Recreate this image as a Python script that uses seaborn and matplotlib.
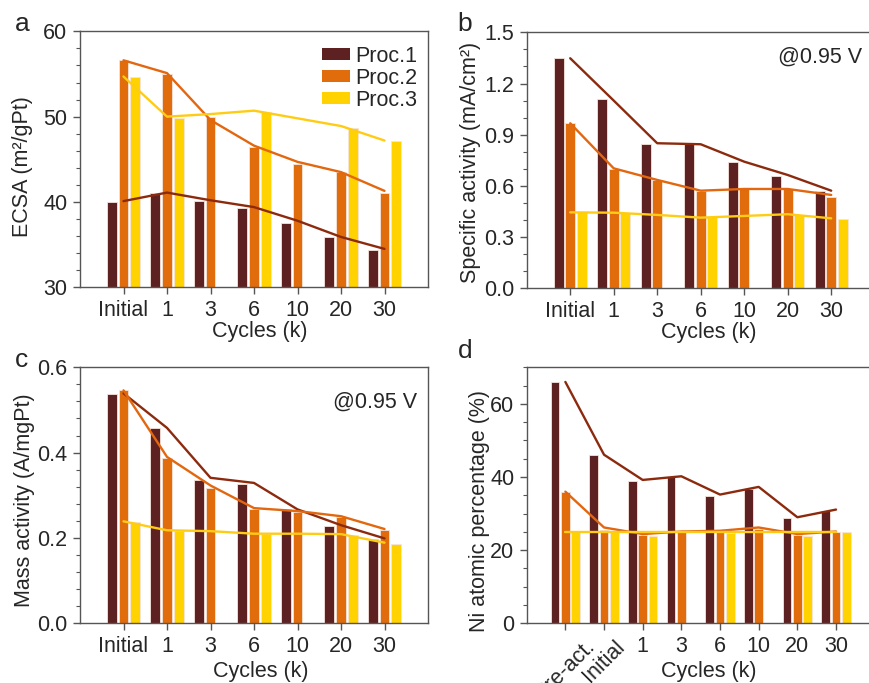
import numpy as np
import pandas as pd
import matplotlib.pyplot as plt
import seaborn as sns
from matplotlib.patches import Patch
from matplotlib.ticker import MultipleLocator

sns.set_style("ticks")
plt.rcParams["font.family"] = ["Liberation Sans", "DejaVu Sans"]

procs = ["Proc.1", "Proc.2", "Proc.3"]
bar_colors = ["#5e2121", "#e06c0b", "#ffd200"]
line_colors = ["#8c2a0e", "#e2670f", "#ffcc15"]

cycles = ["Initial", "1", "3", "6", "10", "20", "30"]
cycles_d = ["Pre-act.", "Initial", "1", "3", "6", "10", "20", "30"]
nan = np.nan

# a - ECSA (bars, then trend lines)
ecsa_p1 = [40.0, 41.0, 40.1, 39.3, 37.5, 35.9, 34.4]
ecsa_p2 = [56.6, 55.0, 50.0, 46.5, 44.4, 43.5, 41.1]
ecsa_p3 = [54.7, 49.8, nan, 50.6, nan, 48.7, 47.1]
ecsa_l1 = [40.1, 41.1, 40.2, 39.4, 37.8, 35.9, 34.5]
ecsa_l2 = [56.6, 55.1, 49.6, 46.6, 44.7, 43.5, 41.3]
ecsa_l3 = [54.7, 50.0, 50.3, 50.7, 49.8, 48.9, 47.2]

# b - specific activity
sa_p1 = [1.348, 1.107, 0.848, 0.846, 0.738, 0.656, 0.568]
sa_p2 = [0.967, 0.697, 0.635, 0.570, 0.584, 0.584, 0.537]
sa_p3 = [0.445, 0.440, nan, 0.418, nan, 0.430, 0.406]
sa_l1 = [1.348, 1.100, 0.850, 0.844, 0.742, 0.664, 0.572]
sa_l2 = [0.967, 0.703, 0.635, 0.572, 0.582, 0.582, 0.547]
sa_l3 = [0.445, 0.443, 0.430, 0.414, 0.424, 0.434, 0.410]

# c - mass activity
ma_p1 = [0.538, 0.458, 0.337, 0.327, 0.267, 0.228, 0.197]
ma_p2 = [0.547, 0.387, 0.317, 0.267, 0.262, 0.250, 0.218]
ma_p3 = [0.238, 0.217, nan, 0.210, nan, 0.208, 0.187]
ma_l1 = [0.539, 0.458, 0.341, 0.329, 0.267, 0.230, 0.199]
ma_l2 = [0.546, 0.390, 0.323, 0.270, 0.263, 0.251, 0.221]
ma_l3 = [0.239, 0.218, 0.216, 0.210, 0.210, 0.209, 0.189]

# d - Ni atomic percentage
ni_p1 = [65.9, 45.9, 38.9, 40.0, 34.9, 36.8, 28.9, 30.8]
ni_p2 = [35.8, 25.4, 24.2, 25.1, 25.1, 25.8, 24.2, 24.9]
ni_p3 = [25.1, 25.3, 23.9, nan, 24.8, nan, 23.9, 24.9]
ni_l1 = [66.0, 46.1, 39.2, 40.2, 35.2, 37.3, 29.0, 31.1]
ni_l2 = [36.0, 26.2, 24.4, 25.1, 25.3, 26.2, 24.4, 25.1]
ni_l3 = [25.1, 25.1, 25.1, 25.1, 25.1, 25.1, 25.1, 25.1]


def panel(ax, cats, bars, lines, ylim, major, minor, ylabel):
    n = len(cats)
    df = pd.DataFrame({
        "cycle": cats * 3,
        "proc": np.repeat(procs, n),
        "value": np.concatenate(bars),
    }).dropna()
    sns.barplot(data=df, x="cycle", y="value", hue="proc", order=cats,
                hue_order=procs, palette=bar_colors, saturation=1, width=0.8,
                gap=0.14, edgecolor="#f6e4dc", linewidth=0.6, errorbar=None,
                legend=False, ax=ax)
    dl = pd.DataFrame({
        "pos": np.tile(np.arange(n), 3),
        "proc": np.repeat(procs, n),
        "value": np.concatenate(lines),
    })
    sns.lineplot(data=dl, x="pos", y="value", hue="proc", hue_order=procs,
                 palette=line_colors, linewidth=1.7, legend=False, ax=ax)
    ax.set_xlim(-1, n)
    ax.set_ylim(*ylim)
    ax.yaxis.set_major_locator(MultipleLocator(major))
    ax.yaxis.set_minor_locator(MultipleLocator(minor))
    ax.set_xticks(range(n))
    ax.set_xticklabels(cats)
    ax.set_ylabel(ylabel, fontsize=15.5)
    ax.set_xlabel("Cycles (k)", fontsize=15.5)
    ax.tick_params(axis="both", which="major", direction="out", length=5,
                   width=1, color="#555555", labelsize=15.5, pad=4)
    ax.tick_params(axis="y", which="minor", direction="out", length=3,
                   width=0.8, color="#555555")
    for s in ax.spines.values():
        s.set_visible(True)
        s.set_color("#555555")
        s.set_linewidth(1)


fig = plt.figure(figsize=(8.69, 6.83), dpi=100)
W, H = 869, 683
aw, ah = 348 / W, 256 / H
ax_a = fig.add_axes([80 / W, 1 - 287.3 / H, aw, ah])
ax_b = fig.add_axes([526.7 / W, 1 - 288.3 / H, aw, ah])
ax_c = fig.add_axes([80 / W, 1 - 623.3 / H, aw, ah])
ax_d = fig.add_axes([526.7 / W, 1 - 623.3 / H, aw, ah])

panel(ax_a, cycles, [ecsa_p1, ecsa_p2, ecsa_p3], [ecsa_l1, ecsa_l2, ecsa_l3],
      (30, 60), 10, 2, "ECSA (m²/gPt)")
panel(ax_b, cycles, [sa_p1, sa_p2, sa_p3], [sa_l1, sa_l2, sa_l3],
      (0, 1.5), 0.3, 0.1, "Specific activity (mA/cm²)")
panel(ax_c, cycles, [ma_p1, ma_p2, ma_p3], [ma_l1, ma_l2, ma_l3],
      (0, 0.6), 0.2, 0.04, "Mass activity (A/mgPt)")
panel(ax_d, cycles_d, [ni_p1, ni_p2, ni_p3], [ni_l1, ni_l2, ni_l3],
      (0, 70), 20, 5, "Ni atomic percentage (%)")

handles = [Patch(facecolor=c, edgecolor="none") for c in bar_colors]
leg = ax_a.legend(handles, procs, loc="upper right", frameon=False,
                  prop={"size": 15.5}, handlelength=1.3, handleheight=0.5,
                  handletextpad=0.25, labelspacing=0.05, borderaxespad=0.0,
                  bbox_to_anchor=(0.995, 0.978))

ax_b.yaxis.set_major_formatter(plt.FuncFormatter(lambda v, p: f"{v:.1f}"))
ax_c.yaxis.set_major_formatter(plt.FuncFormatter(lambda v, p: f"{v:.1f}"))

for lab in ax_d.get_xticklabels()[:2]:
    lab.set_rotation(45)
    lab.set_ha("center")

ax_a.yaxis.set_label_coords(-0.135, 0.47)
ax_b.yaxis.set_label_coords(-0.13, 0.49)
ax_c.yaxis.set_label_coords(-0.13, 0.48)
ax_d.yaxis.set_label_coords(-0.105, 0.44)
ax_a.xaxis.set_label_coords(0.517, -0.13)
ax_b.xaxis.set_label_coords(0.524, -0.13)
ax_c.xaxis.set_label_coords(0.518, -0.148)
ax_d.xaxis.set_label_coords(0.524, -0.148)

ax_b.text(0.963, 0.903, "@0.95 V", transform=ax_b.transAxes, ha="right",
          va="center", fontsize=15.5)
ax_c.text(0.968, 0.864, "@0.95 V", transform=ax_c.transAxes, ha="right",
          va="center", fontsize=15.5)

for x, y, t in [(22, 24, "a"), (465, 24, "b"), (21, 360, "c"), (465, 351, "d")]:
    fig.text(x / W, 1 - y / H, t, fontsize=19, ha="center", va="center")

fig.savefig("out.png", dpi=100)
